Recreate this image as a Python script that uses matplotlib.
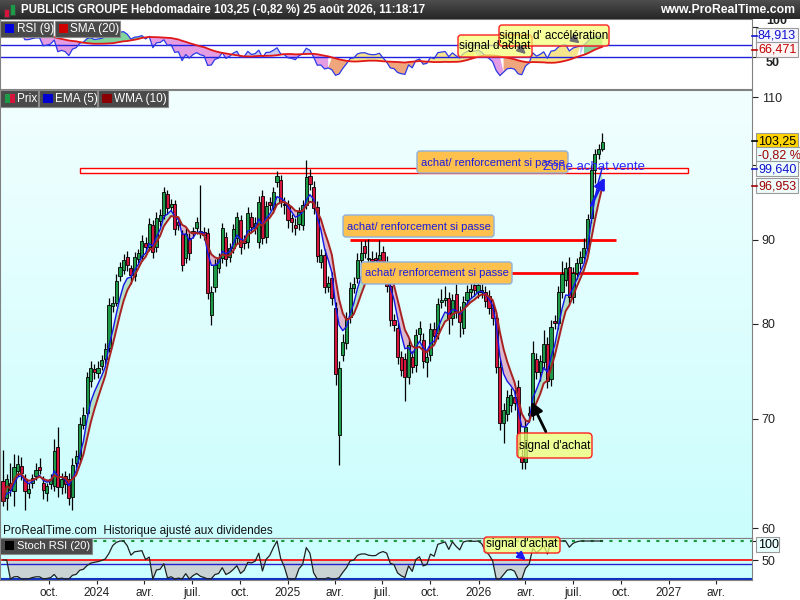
import numpy as np
import pandas as pd
import matplotlib
matplotlib.use('Agg')
import matplotlib.pyplot as plt
import matplotlib.dates as mdates
from matplotlib.patches import Rectangle, FancyBboxPatch, FancyArrowPatch
from matplotlib.colors import LinearSegmentedColormap
from matplotlib.ticker import NullLocator

plt.rcParams['font.family'] = ['Liberation Sans', 'DejaVu Sans']

# Weekly candles PUBLICIS GROUPE (one value per week)
first_week = '2023-07-05'
opens = [64.1, 62.6, 64.0, 63.2, 65.0, 65.5, 64.3, 63.1, 64.0, 64.6,
         65.4, 64.0, 63.1, 63.9, 63.7, 67.3, 63.6, 64.6, 64.3, 62.7,
         65.8, 66.2, 69.4, 70.6, 73.8, 75.1, 74.6, 75.4, 76.1, 77.3,
         82.0, 82.4, 85.5, 86.3, 87.9, 86.5, 85.5, 87.6, 88.0, 89.6,
         89.1, 91.9, 89.1, 92.4, 93.2, 96.0, 94.2, 94.7, 92.3, 90.7,
         87.8, 90.3, 91.0, 91.5, 90.9, 91.0, 90.9, 81.0, 84.2, 86.5,
         87.7, 90.4, 87.9, 89.0, 90.3, 92.6, 89.9, 89.7, 93.0, 91.5,
         89.7, 95.7, 90.4, 94.9, 94.2, 97.6, 97.9, 94.7, 94.5, 92.8,
         91.9, 92.0, 91.9, 94.5, 98.5, 97.0, 94.3, 87.2, 88.1, 84.2,
         85.3, 81.8, 68.4, 76.6, 77.9, 80.8, 84.1, 85.3, 87.5, 89.2,
         87.6, 87.6, 87.8, 87.2, 88.5, 87.2, 84.3, 80.4, 79.5, 76.3,
         76.1, 74.2, 76.3, 75.5, 78.8, 78.2, 75.8, 76.6, 79.4, 79.0,
         82.5, 82.7, 82.9, 80.6, 83.4, 81.2, 79.5, 82.7, 83.7, 84.5,
         83.7, 83.7, 83.7, 83.2, 81.8, 80.6, 75.3, 69.6, 70.5, 71.4,
         72.2, 73.2, 66.4, 65.9, 70.4, 70.6, 76.1, 74.7, 75.8, 77.8,
         74.0, 80.3, 80.1, 83.6, 85.1, 86.6, 83.1, 85.9, 87.1, 87.9,
         89.0, 92.8, 99.3, 101.6, 102.3]
closes = [62.4, 64.3, 63.3, 65.4, 65.7, 64.9, 63.2, 63.4, 64.4, 65.1,
          65.1, 63.3, 63.7, 64.3, 66.9, 63.6, 64.3, 63.9, 62.6, 65.6,
          66.4, 69.5, 70.4, 74.2, 75.2, 74.7, 75.2, 76.0, 77.2, 82.1,
          82.4, 85.0, 86.6, 87.5, 86.9, 85.7, 87.9, 88.3, 89.9, 89.1,
          92.0, 88.5, 92.8, 93.2, 96.2, 94.1, 94.7, 91.4, 91.9, 86.9,
          90.8, 88.4, 90.9, 92.3, 91.1, 90.6, 83.5, 83.7, 86.9, 87.7,
          91.5, 87.6, 89.0, 91.4, 92.9, 89.1, 89.6, 93.5, 91.6, 92.2,
          94.9, 90.3, 94.4, 94.5, 96.2, 98.4, 94.9, 94.5, 92.6, 92.3,
          91.5, 93.6, 94.5, 98.3, 97.4, 94.1, 88.0, 88.1, 84.2, 84.7,
          82.9, 74.5, 75.2, 78.0, 80.6, 84.1, 84.6, 87.5, 88.3, 88.4,
          87.7, 87.4, 87.5, 88.1, 86.3, 84.3, 80.4, 79.9, 76.3, 75.0,
          74.2, 77.6, 75.3, 78.7, 79.5, 75.9, 76.3, 79.4, 78.6, 82.2,
          82.6, 83.0, 80.6, 82.7, 81.3, 80.2, 82.5, 83.7, 84.0, 83.9,
          84.5, 83.9, 82.6, 81.8, 80.6, 75.3, 69.6, 70.9, 72.2, 72.4,
          71.6, 67.1, 65.9, 69.2, 70.6, 76.8, 74.7, 75.9, 77.8, 73.8,
          79.6, 80.1, 83.7, 85.8, 86.5, 83.1, 85.9, 87.1, 87.9, 89.0,
          92.7, 99.3, 101.6, 102.3, 103.25]
highs = [67.0, 64.8, 65.8, 66.6, 66.5, 66.3, 64.8, 64.0, 64.8, 65.8,
         66.2, 64.6, 64.0, 64.8, 68.0, 69.2, 64.9, 65.0, 64.9, 66.2,
         67.0, 70.2, 71.2, 74.8, 75.9, 75.6, 75.9, 76.6, 77.9, 83.0,
         83.2, 85.8, 87.2, 88.2, 88.6, 86.9, 88.5, 88.9, 90.6, 90.4,
         92.8, 92.6, 93.6, 94.0, 97.0, 96.6, 95.3, 95.2, 92.9, 91.3,
         91.5, 90.9, 91.6, 92.9, 97.2, 91.6, 91.5, 84.4, 87.6, 88.4,
         92.2, 91.0, 89.6, 92.0, 93.6, 93.2, 90.6, 94.2, 93.6, 92.9,
         95.7, 96.5, 95.0, 95.6, 96.9, 99.1, 98.6, 95.6, 95.2, 93.4,
         92.8, 94.3, 95.2, 100.7, 99.4, 97.7, 95.0, 88.9, 88.8, 85.5,
         86.0, 82.5, 75.9, 78.8, 81.3, 84.8, 85.4, 88.3, 89.8, 90.0,
         90.1, 88.6, 88.5, 90.0, 89.2, 88.0, 85.0, 81.1, 80.2, 77.0,
         76.8, 78.3, 77.0, 79.4, 80.3, 79.0, 77.0, 80.1, 80.2, 83.0,
         84.0, 84.4, 83.6, 83.4, 84.6, 82.0, 83.2, 84.5, 84.7, 85.2,
         85.6, 84.6, 84.4, 83.9, 82.5, 81.3, 76.0, 71.6, 72.9, 73.1,
         72.9, 73.9, 67.1, 69.9, 71.3, 78.1, 76.8, 76.6, 79.3, 78.5,
         80.4, 81.0, 84.4, 87.4, 87.2, 87.9, 86.6, 87.8, 88.6, 90.3,
         93.4, 100.0, 102.3, 103.0, 104.6]
lows = [61.9, 61.6, 62.8, 61.9, 64.6, 64.2, 61.6, 62.6, 63.5, 64.2,
        64.8, 62.5, 62.4, 63.4, 63.2, 62.7, 63.0, 63.1, 62.0, 61.6,
        65.3, 65.8, 69.0, 70.2, 73.2, 74.0, 74.1, 75.0, 75.6, 76.9,
        81.3, 82.0, 85.0, 85.8, 86.2, 84.6, 85.0, 87.1, 87.4, 88.5,
        88.6, 87.8, 88.5, 91.8, 92.7, 93.4, 93.7, 90.6, 91.2, 86.2,
        87.1, 87.5, 90.2, 90.8, 90.2, 90.0, 82.8, 79.9, 83.6, 85.9,
        87.1, 86.7, 87.2, 88.4, 89.6, 88.2, 88.8, 89.0, 90.9, 90.8,
        89.0, 89.5, 89.6, 93.8, 93.5, 97.0, 94.2, 93.3, 91.5, 91.0,
        90.6, 91.3, 91.2, 94.0, 96.6, 93.4, 87.2, 86.5, 83.5, 83.6,
        82.1, 73.4, 65.6, 75.9, 77.2, 80.1, 83.5, 84.7, 86.9, 87.7,
        86.8, 86.6, 86.9, 86.5, 85.6, 83.6, 79.7, 79.2, 75.6, 74.3,
        71.8, 73.5, 74.6, 74.8, 78.1, 75.2, 74.2, 75.9, 77.9, 78.3,
        81.8, 82.0, 78.8, 79.9, 80.6, 78.5, 78.8, 82.0, 83.0, 83.2,
        83.0, 83.0, 81.9, 81.1, 79.9, 74.6, 68.9, 67.7, 69.8, 70.7,
        70.9, 66.4, 65.2, 65.2, 69.7, 69.9, 74.0, 73.8, 75.1, 73.1,
        73.3, 79.4, 79.4, 82.9, 84.4, 82.4, 82.4, 85.2, 86.4, 87.2,
        88.3, 92.1, 97.5, 100.9, 102.0]

# levels and zones drawn by hand on the chart
zone_low, zone_high = 98.9, 99.5
zone_start, zone_end = '2023-11-29', '2027-02-06'
level_prices = [90.0, 85.9]
level_starts = ['2025-04-29', '2025-05-22']
level_ends = ['2026-09-21', '2026-11-02']

# axis ticks
tick_dates = pd.date_range('2023-10-01', '2027-04-01', freq='QS')
month_names = {1: None, 4: 'avr.', 7: 'juil.', 10: 'oct.'}
price_ticks = [60, 70, 80, 90, 100, 110]
price_tick_labels = ['60', '70', '80', '90', '', '110']

W, H = 800, 600
fig = plt.figure(figsize=(8, 6), dpi=100)
fig.patch.set_facecolor('white')
T = fig.dpi_scale_trans


def frac(y0, y1, x0=0, x1=752):
    return [x0 / W, 1 - y1 / H, (x1 - x0) / W, (y1 - y0) / H]


def prect(x0, y0, x1, y1, **kw):
    r = Rectangle((x0 / 100, (H - y1) / 100), (x1 - x0) / 100, (y1 - y0) / 100,
                  transform=T, **kw)
    fig.add_artist(r)


def pbox(x0, y0, x1, y1, fc, ec, r=3, **kw):
    b = FancyBboxPatch((x0 / 100, (H - y1) / 100), (x1 - x0) / 100, (y1 - y0) / 100,
                       boxstyle='round,pad=0,rounding_size=%f' % (r / 100),
                       transform=T, fc=fc, ec=ec, **kw)
    fig.add_artist(b)


def ptext(x, y, s, **kw):
    fig.text(x / 100, (H - y) / 100, s, transform=T, **kw)


def parrow(x0, y0, x1, y1, color, size=12, lw=1.5):
    a = FancyArrowPatch((x0 / 100, (H - y0) / 100), (x1 / 100, (H - y1) / 100),
                        transform=T, arrowstyle='-|>', mutation_scale=size,
                        color=color, lw=lw, zorder=6)
    fig.add_artist(a)


# ---- data prep
dates = pd.date_range(first_week, periods=len(closes), freq='7D')
xd = mdates.date2num(dates)
o = np.array(opens)
c = np.array(closes)
h = np.array(highs)
l = np.array(lows)
cl = pd.Series(closes)

ema5 = cl.ewm(span=5, adjust=False).mean().values
wma10 = cl.rolling(10, min_periods=1).apply(
    lambda s: np.dot(s, np.arange(1, len(s) + 1)) / np.arange(1, len(s) + 1).sum(),
    raw=True).values


def rsi_calc(s, n):
    d = s.diff()
    up = d.clip(lower=0).ewm(alpha=1 / n, adjust=False).mean()
    dn = (-d.clip(upper=0)).ewm(alpha=1 / n, adjust=False).mean()
    return 100 - 100 / (1 + up / dn)


rsi9 = rsi_calc(cl, 9)
rsi_sma = rsi9.rolling(20, min_periods=1).mean()
rsi9 = rsi9.values
rsi_sma = rsi_sma.values

rsi20 = rsi_calc(cl, 20)
lo20 = rsi20.rolling(20, min_periods=1).min()
hi20 = rsi20.rolling(20, min_periods=1).max()
stoch = ((rsi20 - lo20) / (hi20 - lo20) * 100).fillna(50).values

x_ref = mdates.date2num(pd.Timestamp('2024-01-01'))
ppd = 0.5219
xlim = (x_ref - 97 / ppd, x_ref + 655 / ppd)

# ---- axes
ax_rsi = fig.add_axes(frac(19, 89))
ax_bg = fig.add_axes(frac(90, 538), zorder=-1)
ax = fig.add_axes(frac(90, 538), sharex=ax_rsi)
ax_st = fig.add_axes(frac(538, 580), sharex=ax_rsi)

grad = np.linspace(0, 1, 200).reshape(-1, 1)
ax_bg.imshow(grad, aspect='auto', extent=[0, 1, 0, 1],
             cmap=LinearSegmentedColormap.from_list('bg', ['#f2ffff', '#cbfdfd']))
ax_bg.axis('off')
ax.patch.set_alpha(0)
ax_rsi.set_facecolor('white')
ax_st.set_facecolor('#ccffff')

for a in (ax_rsi, ax, ax_st):
    for s in a.spines.values():
        s.set_color('#808080')
    a.yaxis.tick_right()
    a.tick_params(axis='y', labelsize=9, length=4, pad=3, colors='#222222')
    a.tick_params(axis='x', bottom=False, labelbottom=False)

# ---- price panel
ax.set_yscale('log')
ax.fill_between(xd, ema5, wma10, where=ema5 >= wma10, interpolate=True,
                color='#b2e0c6', lw=0, zorder=2)
ax.fill_between(xd, ema5, wma10, where=ema5 < wma10, interpolate=True,
                color='#dcb6ca', lw=0, zorder=2)
ax.vlines(xd, l, h, color='black', lw=0.9, zorder=3)
body_lo = np.minimum(o, c)
body_hi = np.maximum(np.maximum(o, c), body_lo * 1.002)
ax.bar(xd, body_hi - body_lo, bottom=body_lo, width=6.0,
       color=np.where(c >= o, '#1d9a48', '#d4143c'),
       edgecolor='black', linewidth=0.6, zorder=4)
ax.plot(xd, ema5, color='#1414e6', lw=1.0, zorder=5)
ax.plot(xd, wma10, color='#a82222', lw=1.4, zorder=5)

zs, ze = mdates.date2num(pd.Timestamp(zone_start)), mdates.date2num(pd.Timestamp(zone_end))
ax.add_patch(Rectangle((zs, zone_low), ze - zs, zone_high - zone_low,
                       fc='white', ec='#ff0000', lw=1.0, zorder=2.5))
for p, s, e in zip(level_prices, level_starts, level_ends):
    ax.hlines(p, mdates.date2num(pd.Timestamp(s)), mdates.date2num(pd.Timestamp(e)),
              color='#ff0000', lw=2.0, zorder=2.5)

ax.set_ylim(59.2, 111.1)
ax.set_yticks(price_ticks)
ax.set_yticklabels(price_tick_labels)
ax.yaxis.set_minor_locator(NullLocator())
ax.set_xlim(*xlim)

# ---- RSI panel
above = rsi9 >= rsi_sma
ax_rsi.fill_between(xd, rsi9, rsi_sma, where=above & (rsi9 > 70), interpolate=True,
                    color='#80d49c', lw=0)
ax_rsi.fill_between(xd, rsi9, rsi_sma, where=above & (rsi9 <= 70) & (rsi_sma >= 50),
                    interpolate=True, color='#c6caf0', lw=0)
ax_rsi.fill_between(xd, rsi9, rsi_sma, where=above & (rsi_sma < 50), interpolate=True,
                    color='#f6e48c', lw=0)
ax_rsi.fill_between(xd, rsi9, rsi_sma, where=~above & (rsi_sma >= 50), interpolate=True,
                    color='#e49ce2', lw=0)
ax_rsi.fill_between(xd, rsi9, rsi_sma, where=~above & (rsi_sma < 50), interpolate=True,
                    color='#f0a67c', lw=0)
ax_rsi.axhline(70, color='#2020e0', lw=1.0)
ax_rsi.axhline(50, color='#2020e0', lw=1.0)
ax_rsi.plot(xd, rsi9, color='#2a3ae6', lw=0.9)
ax_rsi.plot(xd, rsi_sma, color='#e01818', lw=1.3)
ax_rsi.set_ylim(-3.3, 113.3)
ax_rsi.set_yticks([50, 100])
rl = ax_rsi.set_yticklabels(['50', '100'], fontweight='bold')
rl[0].set_va('top')
rl[1].set_va('bottom')
ax_rsi.tick_params(axis='y', pad=6)

# ---- Stoch RSI panel
ax_st.fill_between(xd, stoch, 50, where=stoch < 50, interpolate=True,
                   color='#c9d3d3', lw=0)
ax_st.axhline(100, color='#1a9a3a', lw=1.5, ls=(0, (1.5, 3)))
ax_st.axhline(50, color='#ff0000', lw=1.2)
ax_st.axhline(40, color='#2020d0', lw=1.0)
ax_st.axhline(0, color='#1030c0', lw=1.5)
ax_st.plot(xd, stoch, color='#202020', lw=0.9)
ax_st.set_ylim(-2.6, 107.9)
ax_st.set_yticks([50, 100])
ax_st.set_yticklabels(['50', ''])

ax_st.set_xticks(mdates.date2num(tick_dates))
labels = [str(d.year) if d.month == 1 else month_names[d.month] for d in tick_dates]
tl = ax_st.set_xticklabels(labels)
for t, d in zip(tl, tick_dates):
    if d.month == 1:
        t.set_fontweight('bold')
        t.set_fontsize(10)
ax_st.tick_params(axis='x', bottom=True, labelbottom=True, labelsize=8.5,
                  length=3, pad=2, colors='#222222')
ax_st.set_xlim(*xlim)

# ---- title bar
ax_t = fig.add_axes([0, 1 - 19 / H, 1, 19 / H])
ax_t.imshow(grad, aspect='auto', extent=[0, 1, 0, 1],
            cmap=LinearSegmentedColormap.from_list('tb', ['#4e4e4e', '#262626']))
ax_t.axis('off')
prect(4, 9, 9, 17, fc='#d4143c', ec='#404040', lw=0.5)
prect(10, 4, 15, 15, fc='#1d9a48', ec='#404040', lw=0.5)
ptext(21, 10, 'PUBLICIS GROUPE Hebdomadaire 103,25 (-0,82 %) 25 août 2026, 11:18:17',
      color='white', fontsize=8.3, fontweight='bold', va='center')
ptext(795, 10, 'www.ProRealTime.com', color='white', fontsize=8.8, fontweight='bold',
      va='center', ha='right')

# ---- legend tabs
LEG = '#4a4a4a'
prect(0, 21, 53, 37, fc=LEG, ec='#8a8a8a', lw=0.8)
prect(55, 21, 120, 37, fc=LEG, ec='#8a8a8a', lw=0.8)
prect(5, 24, 14, 33, fc='#0000e0', ec='none')
prect(59, 24, 68, 33, fc='#d00000', ec='none')
ptext(17, 29, 'RSI (9)', color='white', fontsize=8.5, va='center')
ptext(70, 29, 'SMA (20)', color='white', fontsize=8.5, va='center')

prect(0, 90, 38, 107, fc=LEG, ec='#8a8a8a', lw=0.8)
prect(39, 90, 97, 107, fc=LEG, ec='#8a8a8a', lw=0.8)
prect(98, 90, 168, 107, fc=LEG, ec='#8a8a8a', lw=0.8)
prect(5, 94, 10, 103, fc='#1d9a48', ec='none')
prect(10, 94, 15, 103, fc='#d4143c', ec='none')
prect(43, 94, 53, 103, fc='#0000d0', ec='none')
prect(102, 94, 112, 103, fc='#8b0000', ec='none')
ptext(17, 99, 'Prix', color='white', fontsize=8.5, va='center')
ptext(55, 99, 'EMA (5)', color='white', fontsize=8.5, va='center')
ptext(114, 99, 'WMA (10)', color='white', fontsize=8.5, va='center')

prect(0, 538, 92, 554, fc=LEG, ec='#8a8a8a', lw=0.8)
prect(5, 541, 14, 550, fc='black', ec='none')
ptext(17, 546, 'Stoch RSI (20)', color='white', fontsize=8, va='center')

ptext(3, 531, 'ProRealTime.com  Historique ajusté aux dividendes', color='#111111',
      fontsize=8.5, va='center')

# ---- annotations on price panel
ORANGE = '#ffc14e'
for (x0, y0, x1, y1) in [(417, 151, 568, 173), (343, 215, 494, 237), (361, 262, 512, 284)]:
    pbox(x0, y0, x1, y1, ORANGE, '#8fb0dc', r=3, lw=1.0, zorder=6)
    ptext((x0 + x1) / 2, (y0 + y1) / 2 + 0.5, 'achat/ renforcement si passe',
          color='#1a1ae0', fontsize=8, ha='center', va='center', zorder=7)
ptext(543, 167, 'Zone achat vente', color='#2828ff', fontsize=9.5, va='center', zorder=7)
parrow(590, 208, 606, 175, '#1a1af0', size=16, lw=2.0)

pbox(517, 433, 592, 458, (0.96, 1.0, 0.45, 0.75), '#ff2020', r=4, lw=1.0, zorder=6)
ptext(554.5, 446, "signal d'achat", color='black', fontsize=8.5, ha='center',
      va='center', zorder=7)
parrow(547, 434, 530, 399, 'black', size=18, lw=2.0)

# RSI panel signals
pbox(458, 35, 532, 57, (0.96, 1.0, 0.45, 0.7), '#ff2020', r=3, lw=1.0, zorder=6)
ptext(495, 46, "signal d'achat", color='black', fontsize=8.5, ha='center',
      va='center', zorder=7)
pbox(499, 25, 609, 46, (0.96, 1.0, 0.45, 0.7), '#ff2020', r=3, lw=1.0, zorder=6)
ptext(554, 36, "signal d' accélération", color='black', fontsize=8.5, ha='center',
      va='center', zorder=7)
parrow(516, 45, 528, 56, '#707070', size=12, lw=1.5)
parrow(570, 36, 582, 45, '#707070', size=12, lw=1.5)

# Stoch panel signal
pbox(484, 537, 560, 553, (0.96, 1.0, 0.45, 0.75), '#ff2020', r=3, lw=1.0, zorder=6)
ptext(522, 544, "signal d'achat", color='black', fontsize=8.5, ha='center',
      va='center', zorder=7)
parrow(515, 551, 528, 562, '#1a1af0', size=12, lw=1.5)


# ---- right-hand value labels
def vlabel(y, s, fc, tc, tick=None):
    prect(756, y - 8, 756 + 6.5 * len(s) + 3, y + 7, fc=fc, ec='#9a9a9a', lw=0.8)
    ptext(758, y, s, color=tc, fontsize=9, va='center')
    if tick:
        fig.add_artist(plt.Line2D([752 / W, 757 / W], [1 - y / H, 1 - y / H],
                                  transform=fig.transFigure, color=tick, lw=1.2))


vlabel(141, '103,25', '#ffd400', 'black', tick='black')
vlabel(155, '-0,82 %', '#e6fbfb', '#a00000')
vlabel(169, '99,640', '#eefcfc', '#1010d0', tick='#1010d0')
vlabel(186, '96,953', '#eefcfc', '#a00000', tick='#a00000')
vlabel(36, '84,913', '#f4f4ff', '#1010d0', tick='#1010d0')
vlabel(50, '66,471', '#fff4f4', '#c00000', tick='#c00000')
vlabel(545, '100', '#eaffff', 'black')

fig.savefig('out.png', dpi=100)
